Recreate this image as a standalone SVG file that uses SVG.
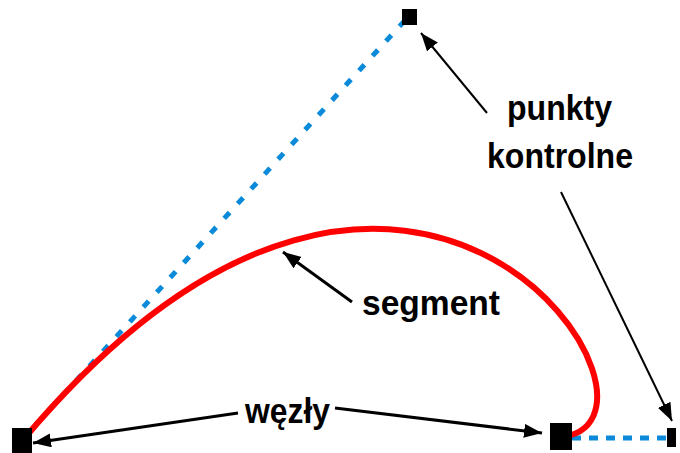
<svg xmlns="http://www.w3.org/2000/svg" width="680" height="453" viewBox="0 0 680 453">
<style>
.ctrl{fill:none;stroke:#0a8ad8;stroke-width:5}
.seg{fill:none;stroke:#ff0000;stroke-width:6;stroke-linecap:round}
.arr{fill:none;stroke:#000;marker-end:url(#ah)}
.lbl{font-family:"Liberation Sans",Arial,sans-serif;font-weight:bold;font-size:35px;fill:#000}
.pt{fill:#000}
</style>
<defs>
<marker id="ah" markerUnits="userSpaceOnUse" markerWidth="20" markerHeight="16" refX="18" refY="7" orient="auto">
<path d="M0,0 L18,7 L0,14 z" fill="#000"/>
</marker>
</defs>
<rect width="680" height="453" fill="#fff"/>
<g id="connectors">
<line class="ctrl" x1="22" y1="440" x2="408" y2="17" stroke-dasharray="8 12"/>
<line class="ctrl" x1="572" y1="438" x2="672" y2="438" stroke-dasharray="9 8"/>
<path id="segment-curve" class="seg" d="M23,440 C418,-30 705,430 558,437"/>
<line class="arr" x1="487" y1="113" x2="421" y2="33" stroke-width="2"/>
<line class="arr" x1="561" y1="192" x2="672" y2="421" stroke-width="2"/>
<line class="arr" x1="352" y1="302" x2="283" y2="252" stroke-width="3"/>
<line class="arr" x1="238" y1="413" x2="33" y2="443" stroke-width="3"/>
<line class="arr" x1="335" y1="408" x2="542" y2="433" stroke-width="3"/>
</g>
<g id="node-left"><rect class="pt" x="12" y="428" width="20" height="25"/></g>
<g id="node-right"><rect class="pt" x="550" y="423" width="22" height="27"/></g>
<g id="cp-top"><rect class="pt" x="402" y="9" width="15" height="16"/></g>
<g id="cp-right"><rect class="pt" x="667" y="428" width="9" height="19"/></g>
<g id="label-punkty">
<text class="lbl" x="507" y="120" textLength="105" lengthAdjust="spacingAndGlyphs">punkty</text>
<text class="lbl" x="487" y="168" textLength="146" lengthAdjust="spacingAndGlyphs">kontrolne</text>
</g>
<g id="label-segment"><text class="lbl" x="362" y="315" textLength="138" lengthAdjust="spacingAndGlyphs">segment</text></g>
<g id="label-wezly"><text class="lbl" x="245" y="423" textLength="85" lengthAdjust="spacingAndGlyphs">węzły</text></g>
</svg>
